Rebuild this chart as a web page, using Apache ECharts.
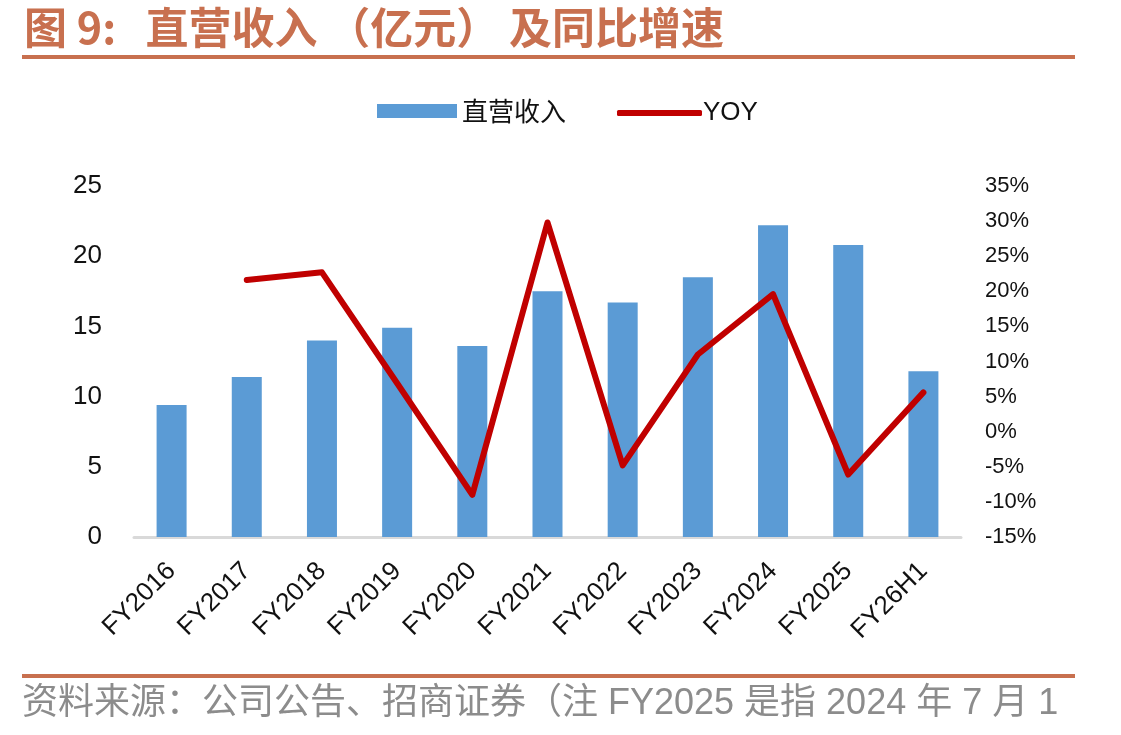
<!DOCTYPE html>
<html>
<head>
<meta charset="utf-8">
<script src="https://cdn.jsdelivr.net/npm/echarts@6/dist/echarts.min.js"></script>
<style>
	html, body { margin: 0; padding: 0; background: #fff; }
	#tuxing { width: 1121px; height: 735px; }
</style>
</head>
<body>
<div id="tuxing"></div>
<script>
// 数据
var categories = ['FY2016', 'FY2017', 'FY2018', 'FY2019', 'FY2020', 'FY2021', 'FY2022', 'FY2023', 'FY2024', 'FY2025', 'FY26H1'];
var revenue = [9.4, 11.4, 14.0, 14.9, 13.6, 17.5, 16.7, 18.5, 22.2, 20.8, 11.8];
var yoy = [null, 21.6, 22.7, 6.9, -9.0, 29.8, -4.8, 11.0, 19.6, -6.1, 5.6];

var titleColor = '#C8704F';
var myChart = echarts.init(document.getElementById('tuxing'));

var option = {
	backgroundColor: '#fff',
	animation: false,
	textStyle: {
		fontFamily: 'Liberation Sans, Arial, "Noto Sans CJK SC", sans-serif'
	},
	graphic: [
		{
			type: 'text',
			left: 24,
			top: 6,
			style: {
				text: '图 9:   直营收入 （亿元） 及同比增速',
				font: 'bold 43px "Noto Sans CJK SC"',
				fill: titleColor
			}
		},
		{
			type: 'rect',
			shape: { x: 22, y: 55, width: 1053, height: 4 },
			style: { fill: titleColor }
		},
		{
			type: 'rect',
			shape: { x: 22, y: 674, width: 1053, height: 4 },
			style: { fill: titleColor }
		},
		{
			type: 'text',
			left: 22,
			top: 686,
			style: {
				text: '资料来源：公司公告、招商证券（注 FY2025 是指 2024 年 7 月 1',
				font: '36px "Liberation Sans", "Noto Sans CJK SC"',
				fill: '#8c8c8c'
			}
		}
	],
	legend: [
		{
			left: 372,
			top: 93,
			itemWidth: 80,
			itemHeight: 14,
			textStyle: {
				fontSize: 26,
				color: '#111',
				fontFamily: '"Noto Sans CJK SC", "Liberation Sans", sans-serif'
			},
			data: [{ name: '直营收入', icon: 'rect' }]
		},
		{
			left: 612,
			top: 95,
			itemWidth: 85,
			itemHeight: 6,
			textStyle: {
				fontSize: 26,
				color: '#111',
				padding: [0, 0, 0, -4],
				fontFamily: '"Liberation Sans", Arial, sans-serif'
			},
			data: [{ name: 'YOY', icon: 'roundRect', itemStyle: { color: '#C00000' } }]
		}
	],
	grid: {
		left: 134,
		right: 160,
		top: 186,
		bottom: 198,
		containLabel: false
	},
	xAxis: {
		type: 'category',
		data: categories,
		axisLine: { lineStyle: { color: '#d9d9d9', width: 3 } },
		axisTick: { show: false },
		axisLabel: {
			rotate: 45,
			fontSize: 26,
			color: '#111',
			margin: 30,
			interval: 0
		}
	},
	yAxis: [
		{
			type: 'value',
			min: 0,
			max: 25,
			interval: 5,
			splitLine: { show: false },
			axisLine: { show: false },
			axisTick: { show: false },
			axisLabel: { fontSize: 26, color: '#111', margin: 32 }
		},
		{
			type: 'value',
			min: -15,
			max: 35,
			interval: 5,
			splitLine: { show: false },
			axisLine: { show: false },
			axisTick: { show: false },
			axisLabel: {
				fontSize: 22,
				color: '#111',
				margin: 24,
				formatter: '{value}%'
			}
		}
	],
	series: [
		{
			name: '直营收入',
			type: 'bar',
			data: revenue,
			barWidth: 30,
			itemStyle: { color: '#5B9BD5' }
		},
		{
			name: 'YOY',
			type: 'line',
			yAxisIndex: 1,
			data: yoy,
			symbol: 'none',
			color: '#C00000',
			lineStyle: { color: '#C00000', width: 6, cap: 'round', join: 'round' }
		}
	]
};
myChart.setOption(option);
</script>
</body>
</html>
